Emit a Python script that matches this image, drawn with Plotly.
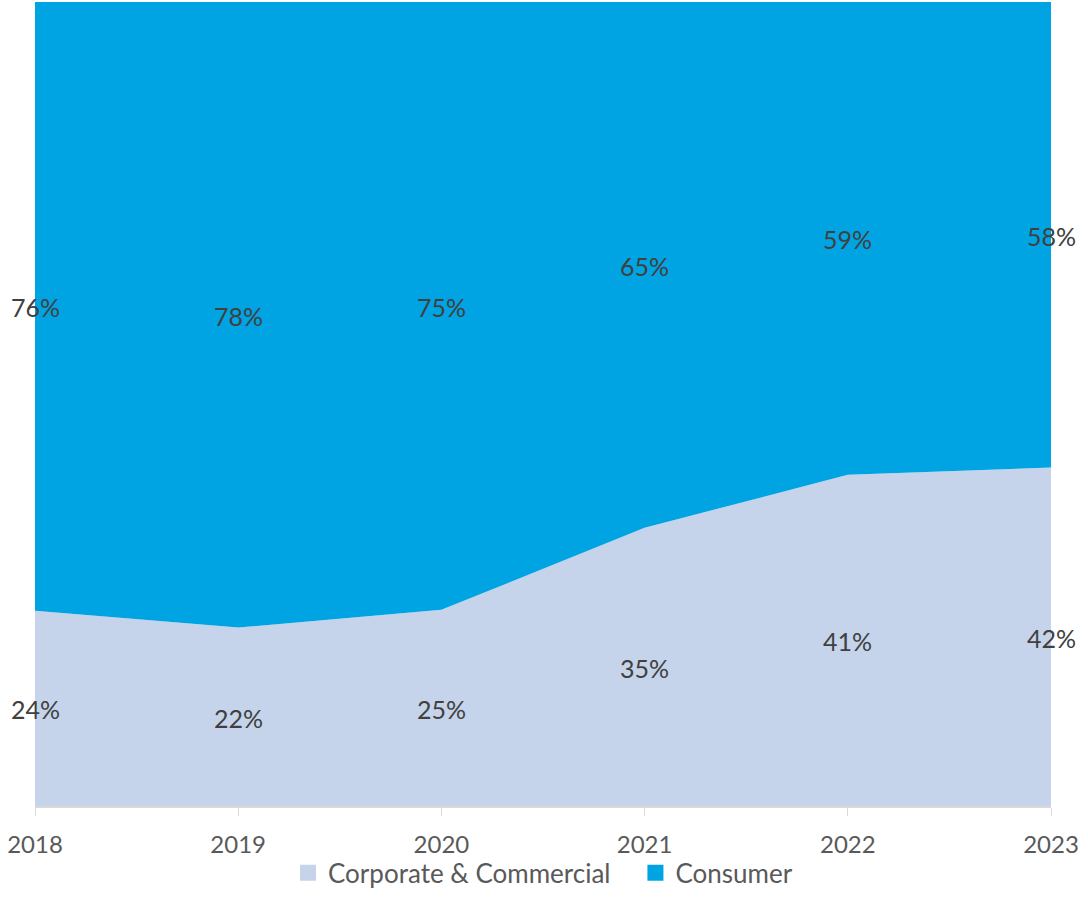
import plotly.graph_objects as go

years = [2018, 2019, 2020, 2021, 2022, 2023]
corporate = [24.3, 22.2, 24.4, 34.6, 41.2, 42.1]
consumer = [75.7, 77.8, 75.6, 65.4, 58.8, 57.9]
corporate_labels = ["24%", "22%", "25%", "35%", "41%", "42%"]
consumer_labels = ["76%", "78%", "75%", "65%", "59%", "58%"]

c_corp = "#C5D4EA"
c_cons = "#00A4E3"
FONT = "Lato"

fig = go.Figure()
fig.add_trace(go.Scatter(x=years, y=corporate, stackgroup="s", mode="lines",
                         line=dict(width=0, color=c_corp), fillcolor=c_corp,
                         showlegend=False, hoverinfo="skip"))
fig.add_trace(go.Scatter(x=years, y=consumer, stackgroup="s", mode="lines",
                         line=dict(width=0, color=c_cons), fillcolor=c_cons,
                         showlegend=False, hoverinfo="skip"))

corp_mid = [c / 2 for c in corporate]
cons_mid = [c + k / 2 for c, k in zip(corporate, consumer)]
for xs, ys, txt in [(years, corp_mid, corporate_labels), (years, cons_mid, consumer_labels)]:
    for x, y, t in zip(xs, ys, txt):
        fig.add_annotation(x=x, y=y, text=t, showarrow=False, yshift=-1,
                           xanchor="center", yanchor="middle",
                           font=dict(family=FONT, size=25, color="#404040"))

# legend entries
fig.add_trace(go.Scatter(x=[None], y=[None], mode="markers",
                         name="Corporate & Commercial\u00a0\u00a0\u00a0",
                         marker=dict(color=c_corp, symbol="square", size=16)))
fig.add_trace(go.Scatter(x=[None], y=[None], mode="markers", name="Consumer",
                         marker=dict(color=c_cons, symbol="square", size=16)))

fig.update_layout(
    width=1088, height=923,
    margin=dict(l=35, r=37, t=2, b=117),
    paper_bgcolor="white", plot_bgcolor="white",
    font=dict(family=FONT, color="#595959"),
    showlegend=True,
    legend=dict(orientation="h", x=0.5, xanchor="center", y=-0.054, yanchor="top",
                bgcolor="rgba(0,0,0,0)",
                font=dict(family=FONT, size=26, color="#595959"),
                itemsizing="trace", traceorder="normal", itemwidth=30),
    xaxis=dict(range=[2018, 2023], tickvals=years, ticktext=[str(y) for y in years],
               showgrid=False, zeroline=False, showline=True, linecolor="#D9D9D9",
               linewidth=1.5, ticks="outside", ticklen=8, tickcolor="#D9D9D9",
               tickfont=dict(family=FONT, size=24, color="#595959"),
               ticklabelstandoff=8),
    yaxis=dict(range=[0, 100], tickvals=[100], showticklabels=False, showgrid=True,
               gridcolor="#D9D9D9", zeroline=False, showline=False),
)

fig.write_html("out.html")
